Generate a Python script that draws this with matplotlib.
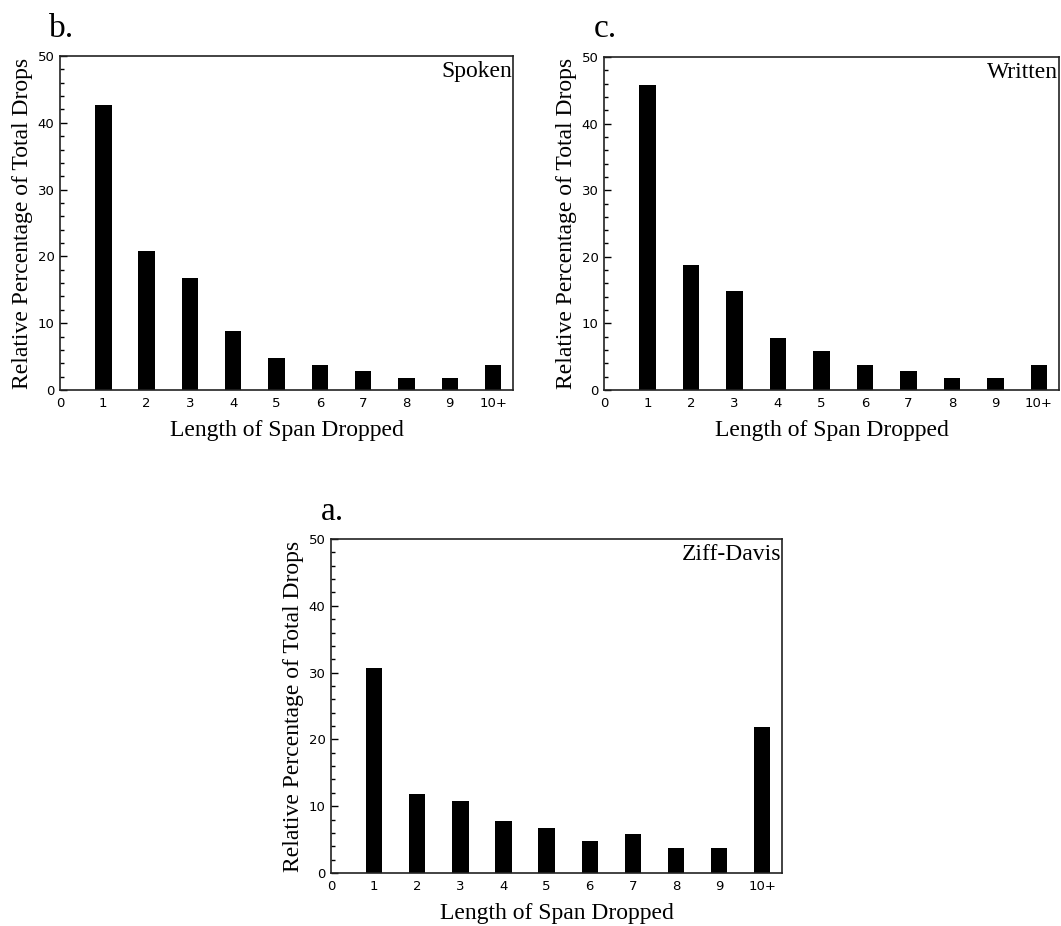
import matplotlib
matplotlib.use("Agg")
import matplotlib.pyplot as plt
from matplotlib.ticker import MultipleLocator

categories = ["0", "1", "2", "3", "4", "5", "6", "7", "8", "9", "10+"]
span_lengths = [1, 2, 3, 4, 5, 6, 7, 8, 9, 10]

spoken = [42.7, 20.8, 16.8, 8.8, 4.8, 3.8, 2.8, 1.8, 1.8, 3.8]
written = [45.8, 18.8, 14.8, 7.8, 5.8, 3.8, 2.8, 1.8, 1.8, 3.8]
ziff_davis = [30.7, 11.8, 10.8, 7.8, 6.8, 4.8, 5.8, 3.8, 3.8, 21.8]

panels = [
    ("b.", "Spoken", spoken),
    ("c.", "Written", written),
    ("a.", "Ziff-Davis", ziff_davis),
]

W, H = 1061, 926
fig = plt.figure(figsize=(W / 100, H / 100), dpi=100)

# axes boxes in pixels: left, top, right, bottom
boxes = [
    (60, 56, 513, 390),
    (604, 57, 1059, 390),
    (331, 539, 782, 873),
]
letter_pos = [(49, 37), (594, 37), (321, 520)]

serif = "Liberation Serif"
sans = "DejaVu Sans"

for (letter, name, vals), (l, t, r, b), (lx, ly) in zip(panels, boxes, letter_pos):
    ax = fig.add_axes([l / W, 1 - b / H, (r - l) / W, (b - t) / H])
    ax.bar(span_lengths, vals, width=0.38, color="black", edgecolor="black", linewidth=0)
    ax.set_xlim(0, 10.46)
    ax.set_ylim(0, 50)
    ax.set_xticks(range(len(categories)))
    ax.set_xticklabels(categories, family=sans, fontsize=9.5)
    ax.tick_params(axis="x", length=0, pad=5)
    ax.yaxis.set_major_locator(MultipleLocator(10))
    ax.yaxis.set_minor_locator(MultipleLocator(2))
    ax.tick_params(axis="y", which="major", direction="in", length=5, width=1, labelsize=9.5, pad=4)
    ax.tick_params(axis="y", which="minor", direction="in", length=3, width=1)
    for lab in ax.get_yticklabels():
        lab.set_family(sans)
    for sp in ax.spines.values():
        sp.set_linewidth(1.2)
        sp.set_color("#222222")
    ax.set_xlabel("Length of Span Dropped", family=serif, fontsize=17, labelpad=7)
    ax.set_ylabel("Relative Percentage of Total Drops", family=serif, fontsize=17, labelpad=3)
    ax.text(0.998, 0.985, name, transform=ax.transAxes, ha="right", va="top",
            family=serif, fontsize=17)
    fig.text(lx / W, 1 - ly / H, letter, family=serif, fontsize=24, ha="left", va="baseline")

fig.savefig("out.png", dpi=100)
